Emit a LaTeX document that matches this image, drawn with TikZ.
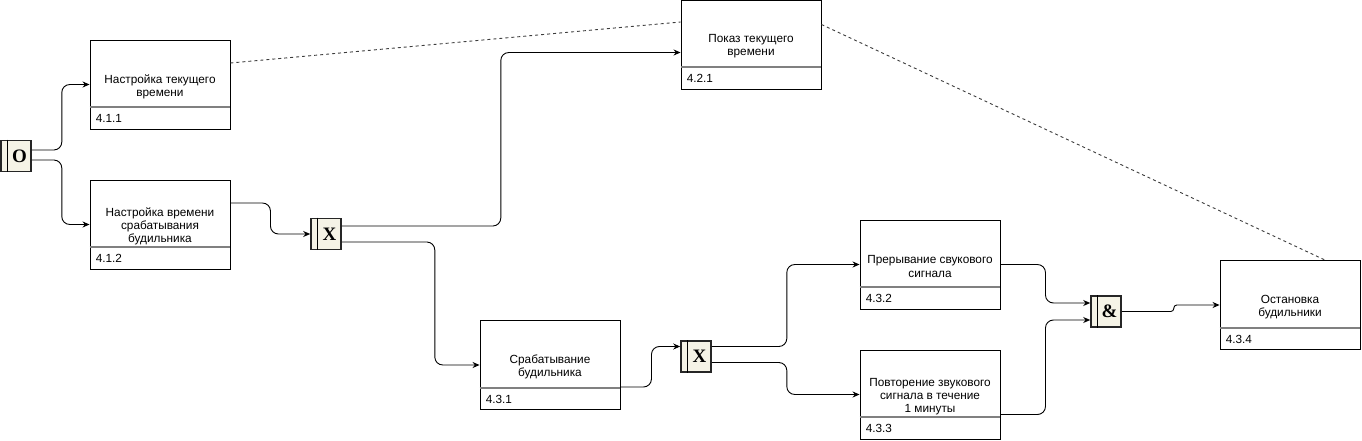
\documentclass[tikz,border=0pt]{standalone}
\usepackage{fontspec}
\setmainfont{Liberation Sans}
\newfontfamily\symfont{Liberation Serif}
\usetikzlibrary{arrows.meta,calc}
\definecolor{jfill}{RGB}{245,243,230}
\definecolor{sepgray}{RGB}{128,128,128}
\definecolor{dashgray}{RGB}{60,60,60}
\tikzset{
  fbox/.style={draw=black, line width=0.9, minimum width=140, minimum height=89, inner sep=0},
  ftext/.style={align=center, inner sep=0, font=\fontsize{11.8}{13.2}\selectfont},
  sepline/.style={draw=sepgray, line width=2},
  numtext/.style={anchor=west, inner sep=0, font=\fontsize{11.8}{13}\selectfont},
  jun/.style={draw=black!85, line width=1.6, fill=jfill, minimum width=30, minimum height=31, inner sep=0},
  jline/.style={draw=black, line width=1.2},
  jsym/.style={inner sep=0, font=\symfont\bfseries\fontsize{19}{19}\selectfont},
  conn/.style={draw=black, line width=0.9, -{Stealth[length=7,width=6]}, rounded corners=8},
  dline/.style={draw=dashgray, line width=0.9, dash pattern=on 3 off 3}
}
\newcommand{\fnbox}[4]{%
  \node[fbox] (#1) at (#2) {};
  \node[ftext] (#1-t) at ([yshift=-2]#1.center) {#3};
  \draw[sepline] ([yshift=22]#1.south west) -- ([yshift=22]#1.south east);
  \node[numtext] (#1-n) at ([xshift=6,yshift=11]#1.south west) {#4};
}
\newcommand{\jbox}[3]{%
  \node[jun] (#1) at (#2) {};
  \draw[jline] ([xshift=7]#1.north west) -- ([xshift=7]#1.south west);
  \node[jsym] (#1-s) at ([xshift=3.5]#1.center) {#3};
}
\begin{document}
\begin{tikzpicture}[x=1pt,y=-1pt]
\useasboundingbox (0,0) rectangle (1362,441);
% boxes
\fnbox{n411}{160,84.5}{Настройка текущего\\времени}{4.1.1}
\fnbox{n412}{160,224.5}{Настройка времени\\срабатывания\\будильника}{4.1.2}
\fnbox{n421}{751,44.5}{Показ текущего\\времени}{4.2.1}
\fnbox{n431}{550,365}{Срабатывание\\будильника}{4.3.1}
\fnbox{n432}{930,264.5}{Прерывание свукового\\сигнала}{4.3.2}
\fnbox{n433}{930,394.5}{Повторение звукового\\сигнала в течение\\1 минуты}{4.3.3}
\fnbox{n434}{1290,305}{Остановка\\будильники}{4.3.4}
% junctions
\jbox{j0}{16,156}{O}
\jbox{j1}{326,234}{X}
\jbox{j2}{696,356.5}{X}
\jbox{j3}{1106,311.5}{\&}
% connectors
\draw[conn] ([yshift=6]j0.east) -- ++(30,0) |- (n411.west);
\draw[conn] ([yshift=-4]j0.east) -- ++(30,0) |- (n412.west);
\draw[conn] ([yshift=21.5]n412.east) -- ++(40,0) |- (j1.west);
\draw[conn] ([yshift=8]j1.east) -- ++(159,0) |- ([yshift=-8]n421.west);
\draw[conn] ([yshift=-8]j1.east) -- ++(93,0) |- (n431.west);
\draw[conn] ([yshift=-22]n431.east) -- ++(31,0) |- ([yshift=10]j2.west);
\draw[conn] ([yshift=10]j2.east) -- ++(75,0) |- (n432.west);
\draw[conn] ([yshift=-6]j2.east) -- ++(75,0) |- (n433.west);
\draw[conn] (n432.east) -- ++(45,0) |- ([yshift=8.5]j3.west);
\draw[conn] ([yshift=-20]n433.east) -- ++(45,0) |- ([yshift=-8.5]j3.west);
\draw[conn, rounded corners=3] (j3.east) -- ++(52,0) |- (n434.west);
% dashed links
\draw[dline] ([yshift=21.5]n411.east) -- ([yshift=22.5]n421.west);
\draw[dline] ([yshift=20]n421.east) -- ([xshift=35]n434.north);
\end{tikzpicture}
\end{document}
